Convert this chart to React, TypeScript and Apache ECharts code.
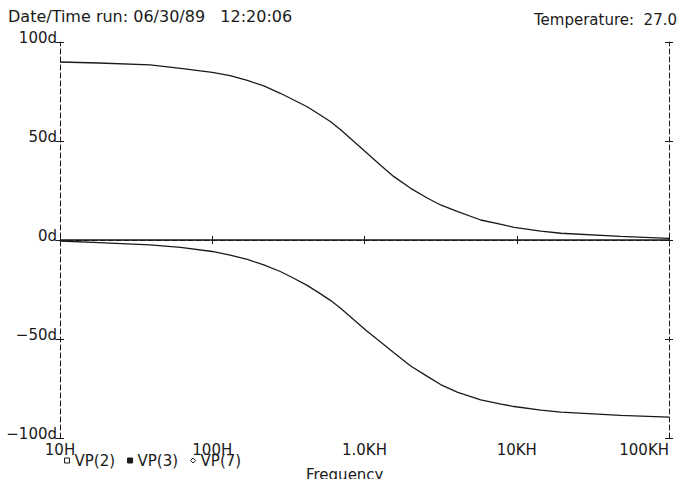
import React, { useEffect, useRef } from 'react';
import * as echarts from 'echarts';

const frequencies = [10, 18, 39, 62, 100, 131, 170, 218, 280, 343, 420, 500, 600, 700, 1040, 1270, 1560, 2010, 2600, 3160, 4100, 5800, 7900, 9600, 14400, 19500, 48000, 100000];
// Phase values (degrees)
const vp2 = [89.9, 89.4, 88.4, 86.7, 84.7, 83.0, 80.6, 77.8, 74.1, 70.7, 67.3, 63.6, 59.7, 55.6, 43.8, 37.9, 32.0, 26.1, 21.1, 17.7, 14.3, 10.1, 7.9, 6.4, 4.5, 3.4, 1.8, 0.8];
const vp3 = [-0.5, -1.3, -2.5, -3.7, -5.8, -7.6, -9.8, -12.6, -15.9, -19.3, -22.9, -26.6, -30.6, -34.6, -46.1, -51.4, -56.9, -63.6, -69.0, -73.0, -77.0, -80.8, -82.9, -84.1, -85.9, -86.9, -88.6, -89.5];
const vp7 = [0, 0, 0, 0, 0, 0, 0, 0, 0, 0, 0, 0, 0, 0, 0, 0, 0, 0, 0, 0, 0, 0, 0, 0, 0, 0, 0, 0];

const seriesNames = ['VP(2)', 'VP(3)', 'VP(7)'];
const xTickValues = [10, 100, 1000, 10000, 100000];
const xTickLabels = ['10H', '100H', '1.0KH', '10KH', '100KH'];
const yTickValues = [-100, -50, 0, 50, 100];
const yTickLabels = ['\u2212100d', '\u221250d', '0d', '50d', '100d'];

const headerLeft = 'Date/Time run: 06/30/89\u00a0\u00a0\u00a012:20:06';
const headerRight = 'Temperature:\u00a0\u00a027.0';
const xTitle = 'Frequency';

const INK = '#1a1a1a';
const FONT = 'DejaVu Sans';

function App() {
  const ref = useRef<HTMLDivElement>(null);

  useEffect(() => {
    if (!ref.current) return;
    const chart = echarts.init(ref.current, undefined, { renderer: 'svg' });

    const xFmt = (v: number) => {
      const i = xTickValues.indexOf(Math.pow(10, Math.round(Math.log10(v))));
      return i >= 0 ? xTickLabels[i] : '';
    };
    const yFmt = (v: number) => {
      const i = yTickValues.indexOf(Math.round(v));
      return i >= 0 ? yTickLabels[i] : '';
    };

    const dashed = { show: true, lineStyle: { color: INK, width: 1, type: [5, 3] as any } };
    const tick = (inside: boolean) => ({ show: true, inside, length: 4, lineStyle: { color: INK, width: 1 } });

    const baseX = {
      type: 'log' as const,
      logBase: 10,
      min: 10,
      max: 100000,
      splitLine: { show: false },
      minorTick: { show: false },
    };
    const baseY = {
      type: 'value' as const,
      min: -100,
      max: 100,
      interval: 50,
      splitLine: { show: false },
    };

    const mk = (vals: number[]) => frequencies.map((f, i) => [f, vals[i]]);

    chart.setOption({
      animation: false,
      backgroundColor: '#ffffff',
      textStyle: { fontFamily: FONT, color: INK },
      title: [
        {
          text: headerLeft,
          left: 8,
          top: 8,
          padding: 0,
          textStyle: { fontFamily: FONT, fontSize: 16, fontWeight: 'normal', color: INK },
        },
        {
          text: headerRight,
          right: 4,
          top: 12,
          padding: 0,
          textStyle: { fontFamily: FONT, fontSize: 15, fontWeight: 'normal', color: INK },
        },
      ],
      grid: { left: 60, right: 12, top: 42, bottom: 41, containLabel: false },
      xAxis: [
        {
          ...baseX,
          position: 'bottom',
          axisLine: dashed,
          axisTick: tick(false),
          axisLabel: {
            show: true,
            margin: 4,
            fontFamily: FONT,
            fontSize: 15,
            color: INK,
            formatter: xFmt,
            alignMaxLabel: 'right',
            showMinLabel: true,
            showMaxLabel: true,
          },
        },
        { ...baseX, position: 'bottom', axisLine: { show: false }, axisTick: tick(true), axisLabel: { show: false } },
        { ...baseX, position: 'top', axisLine: dashed, axisTick: tick(false), axisLabel: { show: false } },
        { ...baseX, position: 'top', axisLine: { show: false }, axisTick: tick(true), axisLabel: { show: false } },
      ],
      yAxis: [
        {
          ...baseY,
          position: 'left',
          axisLine: dashed,
          axisTick: tick(false),
          axisLabel: {
            show: true,
            margin: 3,
            fontFamily: FONT,
            fontSize: 15,
            color: INK,
            formatter: yFmt,
            verticalAlign: 'bottom',
            lineHeight: 8,
          },
        },
        { ...baseY, position: 'left', axisLine: { show: false }, axisTick: tick(true), axisLabel: { show: false } },
        { ...baseY, position: 'right', axisLine: dashed, axisTick: tick(false), axisLabel: { show: false } },
        { ...baseY, position: 'right', axisLine: { show: false }, axisTick: tick(true), axisLabel: { show: false } },
      ],
      legend: {
        left: 64,
        top: 453,
        padding: 0,
        itemWidth: 5,
        itemHeight: 5,
        itemGap: 12,
        textStyle: { fontFamily: FONT, fontSize: 15, color: INK },
        selectedMode: false,
        data: [
          { name: seriesNames[0], icon: 'rect', itemStyle: { color: '#ffffff', borderColor: INK, borderWidth: 1 } },
          { name: seriesNames[1], icon: 'rect', itemStyle: { color: INK, borderColor: INK, borderWidth: 1 } },
          { name: seriesNames[2], icon: 'diamond', itemStyle: { color: '#ffffff', borderColor: INK, borderWidth: 1 } },
        ],
      },
      graphic: [
        {
          type: 'text',
          left: 306,
          top: 467,
          silent: true,
          style: { text: xTitle, font: `15px "${FONT}"`, fill: INK },
        },
      ],
      series: [
        { name: seriesNames[0], data: mk(vp2) },
        { name: seriesNames[1], data: mk(vp3) },
        { name: seriesNames[2], data: mk(vp7) },
      ].map((s) => ({
        ...s,
        type: 'line',
        xAxisIndex: 0,
        yAxisIndex: 0,
        showSymbol: false,
        smooth: false,
        itemStyle: { color: INK },
        lineStyle: { color: INK, width: 1.3 },
        emphasis: { disabled: true },
      })),
    });

    return () => chart.dispose();
  }, []);

  return (
    <div
      ref={ref}
      style={{ position: 'fixed', left: 0, top: 0, width: 681, height: 479, background: '#fff' }}
    />
  );
}

export default App;
